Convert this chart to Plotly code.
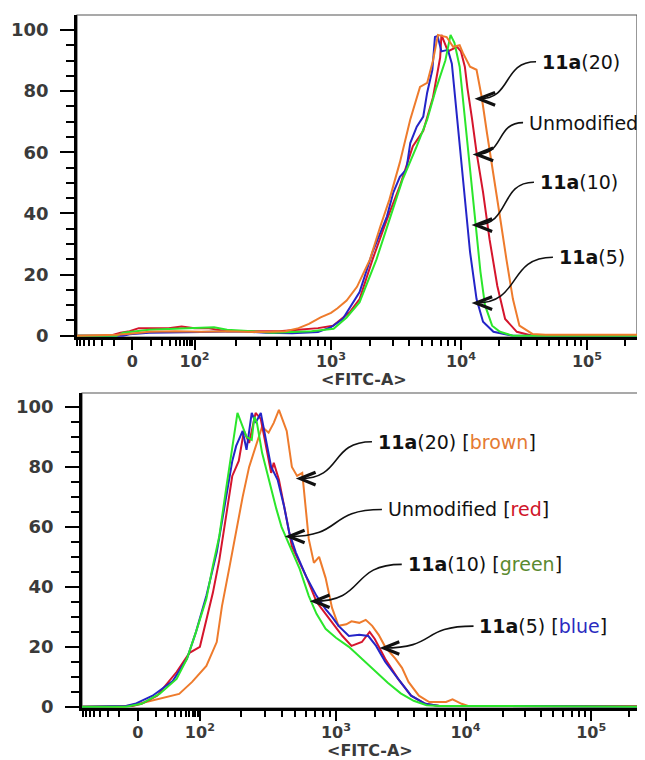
import math
import plotly.graph_objects as go

# biexponential FITC axis: display position (decade units) of each labelled value
X_TICK_TEXT = ["0", "10<sup>2</sup>", "10<sup>3</sup>", "10<sup>4</sup>", "10<sup>5</sup>"]
X_TICK_POS = [1.47, 1.95, 3.0, 4.0, 4.97]
Y_TICKS = [0, 20, 40, 60, 80, 100]

# ---- top histogram (x = display position, y = % of max) ----
TOP_RED_X = [1.045, 1.30, 1.38, 1.45, 1.52, 1.75, 1.85, 1.95, 2.05, 2.2, 2.4, 2.6, 2.75, 2.9, 3.015,
             3.146, 3.22, 3.32, 3.43, 3.53, 3.63, 3.71, 3.785, 3.84, 3.85, 3.9, 3.97, 4.0, 4.03, 4.05,
             4.085, 4.12, 4.17, 4.22, 4.28, 4.34, 4.43, 4.55, 5.355]
TOP_RED_Y = [0, 0, 1, 1.5, 2.5, 2.5, 3, 2.5, 2.5, 1.5, 1.5, 1.5, 2, 2.5, 3.3,
             7.8, 12, 25, 38, 49, 62, 67, 78, 91, 98.4, 93, 94.5, 93, 88, 81,
             71, 60, 47, 31.6, 16.3, 5.5, 1.3, 0, 0]

TOP_GREEN_X = [1.045, 1.35, 1.4, 1.5, 1.6, 1.8, 1.9, 2.1, 2.2, 2.4, 2.55, 2.7, 2.85, 3.02, 3.12,
               3.22, 3.35, 3.45, 3.55, 3.66, 3.74, 3.81, 3.88, 3.92, 3.95, 3.99, 4.03, 4.07, 4.11,
               4.15, 4.185, 4.24, 4.3, 4.4, 5.355]
TOP_GREEN_Y = [0, 0, 1, 1.5, 2, 2.3, 2.5, 2.8, 2, 1.5, 1, 1.2, 1.5, 2.3, 6,
               11, 25, 38, 51, 62, 70.7, 81, 90, 98.4, 95.8, 88, 70.7, 54, 38,
               21, 10, 3.3, 1.3, 0, 0]

TOP_BLUE_X = [1.045, 1.40, 1.45, 1.6, 2.0, 2.3, 2.5, 2.7, 2.9, 3.0, 3.09, 3.22, 3.32, 3.43, 3.48,
              3.53, 3.58, 3.61, 3.66, 3.71, 3.74, 3.78, 3.80, 3.82, 3.85, 3.9, 3.93, 3.97, 4.02,
              4.07, 4.12, 4.17, 4.25, 4.4, 5.355]
TOP_BLUE_Y = [0, 0, 0.5, 1, 1.2, 1.5, 1, 0.8, 1.2, 2.8, 5.5, 14.3, 27.4, 39, 46.9,
              52, 54.4, 63, 68.4, 71.7, 79.5, 87, 97.7, 98, 93, 93.5, 89, 70.7, 49,
              27.4, 12, 4.6, 1.3, 0, 0]

TOP_ORANGE_X = [1.045, 1.35, 1.45, 1.6, 1.8, 2.0, 2.2, 2.4, 2.55, 2.65, 2.75, 2.83, 2.92, 3.0, 3.05,
                3.12, 3.2, 3.3, 3.38, 3.45, 3.53, 3.61, 3.685, 3.74, 3.785, 3.823, 3.86, 3.89, 3.94,
                3.99, 4.015, 4.07, 4.12, 4.16, 4.2, 4.25, 4.3, 4.35, 4.4, 4.45, 4.55, 4.65, 5.355]
TOP_ORANGE_Y = [0, 0.3, 0.7, 1.3, 1.5, 1.3, 1.5, 1.2, 1.3, 1.5, 2.5, 3.9, 6, 7.5, 9,
                11.5, 16, 25, 35.8, 44.6, 56.7, 70.7, 81.4, 82.7, 90, 98.4, 98, 97.7, 94.5,
                95, 92.5, 88, 87, 78, 66.4, 53.4, 39, 25, 12, 3.3, 0.6, 0.3, 0.3]

# ---- bottom histogram ----
BOT_GREEN_X = [1.04, 1.38, 1.5, 1.638, 1.77, 1.85, 1.92, 2.0, 2.05, 2.1, 2.15, 2.18, 2.2, 2.24, 2.31,
               2.35, 2.37, 2.39, 2.43, 2.48, 2.54, 2.58, 2.64, 2.72, 2.79, 2.85, 2.92, 3.0, 3.1, 3.2,
               3.3, 3.4, 3.5, 3.6, 3.7, 3.8, 4.12, 5.37]
BOT_GREEN_Y = [0, 0, 1, 4.3, 9.3, 16, 25, 36, 47, 57, 72, 81, 87, 98, 90,
               89, 96.7, 94.7, 84.7, 76, 66, 60, 54, 46, 37, 31, 26, 23, 20, 16,
               12, 8, 4.5, 2, 0.5, 0.3, 0.3, 0]

BOT_BLUE_X = [1.04, 1.38, 1.45, 1.585, 1.74, 1.85, 1.92, 2.0, 2.08, 2.15, 2.2, 2.23, 2.28, 2.31, 2.35,
              2.38, 2.42, 2.46, 2.5, 2.55, 2.6, 2.64, 2.69, 2.77, 2.85, 2.92, 2.97, 3.02, 3.1, 3.18,
              3.25, 3.31, 3.38, 3.48, 3.58, 3.69, 3.8, 4.1, 5.37]
BOT_BLUE_Y = [0, 0.3, 1, 3.7, 8.6, 16, 25, 37, 51.5, 70, 82, 87, 92, 85.7, 98,
              94.7, 98, 89, 80, 75.7, 66.8, 58, 51.5, 43.5, 37, 32.6, 30, 27, 23.6, 24,
              23.6, 20.3, 15, 9.3, 3.7, 1, 0.3, 0.3, 0]

BOT_RED_X = [1.04, 1.43, 1.5, 1.62, 1.77, 1.87, 1.95, 2.0, 2.05, 2.1, 2.15, 2.2, 2.25, 2.29, 2.33,
             2.38, 2.42, 2.46, 2.5, 2.52, 2.56, 2.62, 2.66, 2.77, 2.85, 2.91, 2.97, 3.05, 3.12, 3.2,
             3.26, 3.3, 3.38, 3.48, 3.58, 3.69, 3.8, 4.1, 5.37]
BOT_RED_Y = [0, 0.3, 1, 3.7, 11.6, 18, 20, 29, 38, 49, 62.5, 77, 82, 92, 88,
             98, 96, 87, 78, 81.4, 75.7, 62.5, 53.5, 43.5, 35, 31.6, 28, 23.6, 20.3, 21.6,
             25, 22.6, 16, 9.3, 3.7, 1, 0.3, 0.3, 0]

BOT_ORANGE_X = [1.04, 1.35, 1.48, 1.64, 1.79, 1.89, 2.0, 2.08, 2.12, 2.18, 2.23, 2.28, 2.33, 2.38, 2.43,
                2.48, 2.52, 2.56, 2.62, 2.66, 2.7, 2.74, 2.77, 2.79, 2.83, 2.87, 2.92, 2.97, 3.02,
                3.08, 3.12, 3.18, 3.23, 3.28, 3.33, 3.38, 3.46, 3.51, 3.56, 3.64, 3.72, 3.85, 3.9,
                3.97, 4.02, 4.15, 5.37]
BOT_ORANGE_Y = [0, 0, 1, 2.6, 4.3, 8.3, 13.6, 21.6, 33.5, 47, 59, 70, 80, 86.7, 93.4,
                91.4, 94.7, 99, 92, 80, 77, 78, 65, 56, 48, 50, 43, 33, 27,
                27.5, 28.5, 28, 29, 27, 24, 20, 16, 13, 8.3, 3.7, 1.6, 1.6, 2.5,
                1, 0.3, 0.3, 0.3]

# ---- arrow labels: text anchor and arrow tip, in axis units ----
TOP_LABELS = ["<b>11a</b>(20)", "Unmodified", "<b>11a</b>(10)", "<b>11a</b>(5)"]
TOP_LABEL_X = [4.608, 4.508, 4.592, 4.738]
TOP_LABEL_Y = [89.6, 69.7, 50.2, 25.7]
TOP_TIP_X = [4.138, 4.123, 4.115, 4.115]
TOP_TIP_Y = [77.5, 59.3, 36.2, 10.7]

BOT_LABELS = ["<b>11a</b>(20) [<span style='color:#E57A32'>brown</span>]",
              "Unmodified [<span style='color:#D0142A'>red</span>]",
              "<b>11a</b>(10) [<span style='color:#5A8A30'>green</span>]",
              "<b>11a</b>(5) [<span style='color:#2B2BBF'>blue</span>]"]
BOT_LABEL_X = [3.308, 3.385, 3.538, 4.092]
BOT_LABEL_Y = [88.4, 65.8, 47.5, 26.9]
BOT_TIP_X = [2.723, 2.638, 2.831, 3.369]
BOT_TIP_Y = [76.1, 56.8, 35.2, 19.6]

ORANGE = "#EE7B2C"
RED = "#D5152C"
GREEN = "#2BE62B"
BLUE = "#2424C8"

X_FONT = dict(family="DejaVu Sans", size=16, color="#3a3a3a", weight="bold")
Y_FONT = dict(family="DejaVu Sans", size=18, color="#3a3a3a", weight="bold")
LABEL_FONT = dict(family="DejaVu Sans", size=19, color="#111111")

# the page body adds an 8px offset, so the figure is laid out 8px smaller
W, H = 637, 752


def minor_x_ticks(top):
    p = X_TICK_POS
    vals = []
    # linear-ish region around zero
    for m in range(1, 10):
        f = math.asinh(m) / math.asinh(10)
        vals.append(p[0] + (p[1] - p[0]) * f)
        vals.append(p[0] - (p[1] - p[0]) * f)
    # log decades
    for a, b in [(p[1], p[2]), (p[2], p[3]), (p[3], p[4]), (p[4], p[4] + (p[4] - p[3]))]:
        for m in range(2, 10):
            v = a + math.log10(m) * (b - a)
            if v < top:
                vals.append(v)
    return vals


def arrow_shapes(xr, yr, lx, ly, tx, ty, hx, hy):
    out = []
    for x0, y0, x1, y1 in zip(lx, ly, tx, ty):
        sx = x0 - 0.03
        dx = sx - x1
        path = f"M {sx},{y0} C {sx - 0.6 * dx},{y0} {x1 + 0.6 * dx},{y1} {x1},{y1}"
        out.append(dict(type="path", path=path, xref=xr, yref=yr,
                        line=dict(color="#111111", width=1.6)))
        head = f"M {x1 + hx},{y1 + hy} L {x1},{y1} L {x1 + hx},{y1 - hy}"
        out.append(dict(type="path", path=head, xref=xr, yref=yr,
                        line=dict(color="#111111", width=3.2)))
    return out


fig = go.Figure()

for xs, ys, c in [(TOP_RED_X, TOP_RED_Y, RED), (TOP_BLUE_X, TOP_BLUE_Y, BLUE),
                  (TOP_GREEN_X, TOP_GREEN_Y, GREEN), (TOP_ORANGE_X, TOP_ORANGE_Y, ORANGE)]:
    fig.add_trace(go.Scatter(x=xs, y=ys, mode="lines", line=dict(color=c, width=2),
                             xaxis="x", yaxis="y", hoverinfo="skip"))

for xs, ys, c in [(BOT_ORANGE_X, BOT_ORANGE_Y, ORANGE), (BOT_RED_X, BOT_RED_Y, RED),
                  (BOT_BLUE_X, BOT_BLUE_Y, BLUE), (BOT_GREEN_X, BOT_GREEN_Y, GREEN)]:
    fig.add_trace(go.Scatter(x=xs, y=ys, mode="lines", line=dict(color=c, width=2),
                             xaxis="x2", yaxis="y2", hoverinfo="skip"))


def xaxis(domain, rng, anchor):
    return dict(domain=domain, range=rng, anchor=anchor, tickmode="array", automargin=False,
                tickvals=X_TICK_POS, ticktext=X_TICK_TEXT, ticks="outside", ticklen=10,
                tickwidth=2, tickcolor="black", showline=True, linewidth=2.5, linecolor="black",
                showgrid=False, zeroline=False, tickfont=X_FONT, layer="below traces",
                ticklabelstandoff=-2,
                minor=dict(tickmode="array", tickvals=minor_x_ticks(rng[1]), ticks="outside",
                           ticklen=6, tickwidth=1.5, tickcolor="black", showgrid=False))


def yaxis(domain, rng, anchor):
    return dict(domain=domain, range=rng, anchor=anchor, tickvals=Y_TICKS, ticks="outside",
                ticklen=14, tickwidth=2, tickcolor="black", showline=True, linewidth=2.5,
                linecolor="black", showgrid=False, zeroline=False, tickfont=Y_FONT,
                ticklabelstandoff=8, layer="below traces", automargin=False,
                minor=dict(dtick=5, ticks="outside", ticklen=8, tickwidth=1.5,
                           tickcolor="black", showgrid=False))


shapes = []
for xr, yr in [("x domain", "y domain"), ("x2 domain", "y2 domain")]:
    shapes.append(dict(type="rect", xref=xr, yref=yr, x0=0, x1=1, y0=0, y1=1,
                       line=dict(color="#555555", width=1.2), layer="below"))
shapes += arrow_shapes("x", "y", TOP_LABEL_X, TOP_LABEL_Y, TOP_TIP_X, TOP_TIP_Y, 0.125, 2.1)
shapes += arrow_shapes("x2", "y2", BOT_LABEL_X, BOT_LABEL_Y, BOT_TIP_X, BOT_TIP_Y, 0.12, 2.1)

annotations = []
for labels, lx, ly, xr, yr in [(TOP_LABELS, TOP_LABEL_X, TOP_LABEL_Y, "x", "y"),
                               (BOT_LABELS, BOT_LABEL_X, BOT_LABEL_Y, "x2", "y2")]:
    for t, x, y in zip(labels, lx, ly):
        annotations.append(dict(text=t, x=x, y=y, xref=xr, yref=yr, xanchor="left",
                                yanchor="middle", showarrow=False, font=LABEL_FONT))
for xr, yr, yy in [("x domain", "y domain", -0.132), ("x2 domain", "y2 domain", -0.134)]:
    annotations.append(dict(text="&lt;FITC-A&gt;", x=0.5125, y=yy, xref=xr, yref=yr,
                            xanchor="center", yanchor="middle", showarrow=False, font=X_FONT))

fig.update_layout(
    width=W, height=H, margin=dict(l=0, r=0, t=0, b=0),
    paper_bgcolor="white", plot_bgcolor="white", showlegend=False,
    xaxis=xaxis([69 / W, 629 / W], [1.045, 5.355], "y"),
    yaxis=yaxis([(H - 329) / H, (H - 7) / H], [-0.4, 104.9], "x"),
    xaxis2=xaxis([74 / W, 635 / W], [1.04, 5.37], "y2"),
    yaxis2=yaxis([(H - 700) / H, (H - 385) / H], [-0.4, 104.65], "x2"),
    shapes=shapes, annotations=annotations,
)

fig.write_html("out.html")
